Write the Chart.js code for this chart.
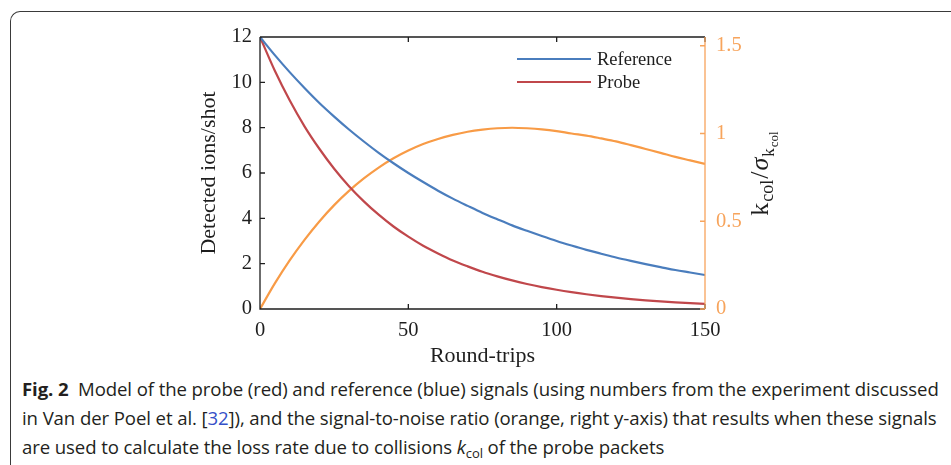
<!DOCTYPE html>
<html>
<head>
<meta charset="utf-8">
<script src="https://cdn.jsdelivr.net/npm/chart.js@4.4.0/dist/chart.umd.min.js"></script>
<style>
html, body { margin: 0; padding: 0; background: #fff; width: 951px; height: 465px; overflow: hidden; }
#frame { position: absolute; left: 10px; top: 11px; width: 1000px; height: 500px;
  border-left: 1.5px solid #3a3a3a; border-top: 1.5px solid #3a3a3a; border-top-left-radius: 10px; }
#plot { position: absolute; left: 0; top: 0; width: 951px; height: 372px; }
#caption { position: absolute; left: 22px; top: 374px; font-family: "Open Sans"; font-size: 18.6px;
  line-height: 29px; color: #231f20; white-space: nowrap; letter-spacing: -0.1px; }
#caption b { font-weight: 700; }
#caption .ref { color: #3450c8; }
#caption sub { font-size: 13px; vertical-align: baseline; position: relative; top: 4px; }
</style>
</head>
<body>
<div id="frame"></div>
<div id="plot"><canvas id="chart"></canvas></div>
<div id="caption"><b>Fig. 2</b>&nbsp; Model of the probe (red) and reference (blue) signals (using numbers from the experiment discussed<br>in Van der Poel et al. [<span class="ref">32</span>]), and the signal-to-noise ratio (orange, right y-axis) that results when these signals<br>are used to calculate the loss rate due to collisions <i>k</i><sub>col</sub> of the probe packets</div>
<script>
// values
var roundTrips = [0,5,10,15,20,25,30,35,40,45,50,55,60,65,70,75,80,85,90,95,100,105,110,115,120,125,130,135,140,145,150];
var reference = [12,11.20,10.45,9.75,9.09,8.49,7.92,7.39,6.89,6.43,6.00,5.60,5.22,4.87,4.55,4.24,3.96,3.69,3.45,3.22,3.00,2.80,2.61,2.44,2.27,2.12,1.98,1.85,1.72,1.61,1.50];
var probe = [12,10.51,9.21,8.06,7.07,6.19,5.42,4.75,4.16,3.64,3.19,2.79,2.45,2.14,1.88,1.64,1.44,1.26,1.105,0.968,0.848,0.743,0.651,0.570,0.499,0.437,0.383,0.335,0.294,0.257,0.225];
var snr = [0,0.146,0.277,0.394,0.499,0.592,0.673,0.744,0.806,0.859,0.903,0.940,0.969,0.992,1.010,1.022,1.030,1.033,1.030,1.024,1.014,1.000,0.988,0.972,0.955,0.934,0.912,0.890,0.867,0.847,0.827];

var xTicks = [0,50,100,150];
var leftTicks = [0,2,4,6,8,10,12];
var rightTicks = [0,0.5,1,1.5];

var BLUE = "#4a7dbd", RED = "#c0474b", ORANGE = "#f89b46", AXIS_ORANGE = "#f7a45c", INK = "#1e1e1e";
var SERIF = '"Liberation Serif", "DejaVu Serif", serif';

function pts(ys) {
  return roundTrips.map(function (x, i) { return {x: x, y: ys[i]}; });
}
function fixTicks(list) {
  return function (scale) { scale.ticks = list.map(function (v) { return {value: v}; }); };
}

// spines, inward ticks, axis titles and the in-plot legend
var decor = {
  id: "decor",
  afterDraw: function (chart) {
    var ctx = chart.ctx, a = chart.chartArea;
    var sx = chart.scales.x, sy = chart.scales.y, sy1 = chart.scales.y1;
    var tl = 5;
    ctx.save();
    ctx.lineWidth = 1.3;
    ctx.strokeStyle = INK;
    ctx.beginPath();
    ctx.moveTo(a.left, a.top); ctx.lineTo(a.right, a.top);
    ctx.moveTo(a.left, a.top); ctx.lineTo(a.left, a.bottom); ctx.lineTo(a.right, a.bottom);
    sx.ticks.forEach(function (t) {
      var p = sx.getPixelForValue(t.value);
      ctx.moveTo(p, a.bottom); ctx.lineTo(p, a.bottom - tl);
      ctx.moveTo(p, a.top); ctx.lineTo(p, a.top + tl);
    });
    sy.ticks.forEach(function (t) {
      var p = sy.getPixelForValue(t.value);
      ctx.moveTo(a.left, p); ctx.lineTo(a.left + tl, p);
    });
    ctx.stroke();

    ctx.strokeStyle = AXIS_ORANGE;
    ctx.beginPath();
    ctx.moveTo(a.right, a.top); ctx.lineTo(a.right, a.bottom);
    sy1.ticks.forEach(function (t) {
      var p = sy1.getPixelForValue(t.value);
      ctx.moveTo(a.right, p); ctx.lineTo(a.right - tl, p);
    });
    ctx.stroke();

    // axis titles
    ctx.fillStyle = INK;
    ctx.font = "22px " + SERIF;
    ctx.textAlign = "center";
    ctx.textBaseline = "middle";
    ctx.fillText("Round-trips", (a.left + a.right) / 2, a.bottom + 47);
    ctx.save();
    ctx.translate(a.left - 51, (a.top + a.bottom) / 2);
    ctx.rotate(-Math.PI / 2);
    ctx.fillText("Detected ions/shot", 0, 0);
    ctx.restore();

    // right title: k_col / sigma_{k_col}
    var parts = [
      {t: "k", f: "26px " + SERIF, dy: 0},
      {t: "col", f: "18px " + SERIF, dy: 5},
      {t: "/", f: "26px " + SERIF, dy: 0},
      {t: "\u03c3", f: "italic 26px " + SERIF, dy: 0},
      {t: "k", f: "17px " + SERIF, dy: 6},
      {t: "col", f: "13px " + SERIF, dy: 10}
    ];
    var total = 0;
    parts.forEach(function (p) { ctx.font = p.f; p.w = ctx.measureText(p.t).width + 1; total += p.w; });
    ctx.save();
    ctx.translate(a.right + 63, (a.top + a.bottom) / 2);
    ctx.rotate(-Math.PI / 2);
    ctx.textAlign = "left";
    ctx.textBaseline = "alphabetic";
    var cx = -total / 2;
    parts.forEach(function (p) { ctx.font = p.f; ctx.fillText(p.t, cx, p.dy); cx += p.w; });
    ctx.restore();

    // legend (first two series)
    ctx.font = "18.5px " + SERIF;
    ctx.textAlign = "left";
    ctx.textBaseline = "middle";
    chart.data.datasets.slice(0, 2).forEach(function (ds, i) {
      var y = a.top + 22 + i * 23;
      ctx.strokeStyle = ds.borderColor;
      ctx.lineWidth = 2.2;
      ctx.beginPath();
      ctx.moveTo(a.right - 188, y); ctx.lineTo(a.right - 114, y);
      ctx.stroke();
      ctx.fillStyle = INK;
      ctx.fillText(ds.label, a.right - 108, y + 1);
    });
    ctx.restore();
  }
};

Chart.defaults.font.family = SERIF;
Chart.defaults.font.size = 20.5;

new Chart(document.getElementById("chart"), {
  type: "line",
  data: {
    datasets: [
      {label: "Reference", data: pts(reference), borderColor: BLUE, yAxisID: "y"},
      {label: "Probe", data: pts(probe), borderColor: RED, yAxisID: "y"},
      {label: "SNR", data: pts(snr), borderColor: ORANGE, yAxisID: "y1"}
    ]
  },
  options: {
    responsive: true,
    maintainAspectRatio: false,
    animation: false,
    layout: {padding: {left: 0, right: 0, top: 37, bottom: 0}},
    elements: {
      point: {radius: 0},
      line: {borderWidth: 2.2, fill: false, cubicInterpolationMode: "monotone"}
    },
    plugins: {legend: {display: false}, tooltip: {enabled: false}},
    scales: {
      x: {
        type: "linear", min: 0, max: 150,
        afterBuildTicks: fixTicks(xTicks),
        afterFit: function (s) { s.height = 63; },
        grid: {display: false, drawTicks: false},
        border: {display: false},
        ticks: {color: INK, padding: 9, maxRotation: 0}
      },
      y: {
        position: "left", min: 0, max: 12,
        afterBuildTicks: fixTicks(leftTicks),
        afterFit: function (s) { s.width = 260; },
        grid: {display: false, drawTicks: false},
        border: {display: false},
        ticks: {color: INK, padding: 8}
      },
      y1: {
        position: "right", min: 0, max: 1.55,
        afterBuildTicks: fixTicks(rightTicks),
        afterFit: function (s) { s.width = 246; },
        grid: {display: false, drawTicks: false},
        border: {display: false},
        ticks: {color: AXIS_ORANGE, padding: 11, callback: function (v) { return String(v); }}
      }
    }
  },
  plugins: [decor]
});
</script>
</body>
</html>
